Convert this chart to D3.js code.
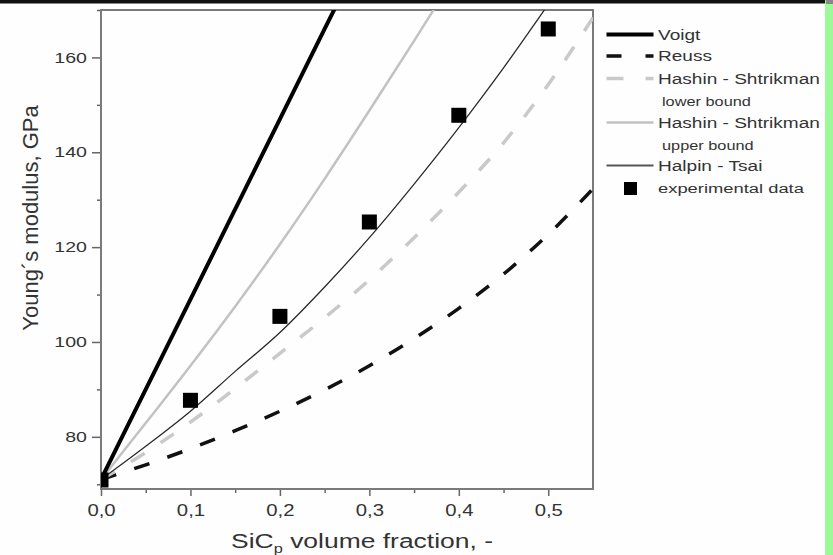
<!DOCTYPE html>
<html>
<head>
<meta charset="utf-8">
<script src="https://cdn.jsdelivr.net/npm/d3@7"></script>
<style>
  body { margin: 0; background: #fff; }
  text { font-family: "Liberation Sans", Arial, sans-serif; fill: #333; }
</style>
</head>
<body>
<div id="chart"></div>
<script>
// volume fractions of SiC particles
const fractions = [0, 0.05, 0.1, 0.15, 0.2, 0.25, 0.3, 0.35, 0.4, 0.45, 0.5, 0.55];

// Young's modulus (GPa), null = above the plot
const voigt = [71, 90, 109, 128, 147, 166, 185, null, null, null, null, null];
const hsUpper = [71, 82.9, 95.0, 107.5, 120.6, 134.4, 148.8, 163.5, 178.5, null, null, null];
const halpinTsai = [71, 78, 85.4, 93.8, 102, 111.6, 122, 133.3, 145.2, 157.8, 171.2, null];
const hsLower = [71, 76.7, 83.1, 90.2, 97.6, 105.1, 113.1, 122.0, 131.6, 142.0, 154.3, 168.4];
const reuss = [71, 74.1, 77.5, 81.3, 85.4, 89.9, 95.0, 100.7, 107.1, 114.3, 122.7, 132.3];

// experimental data
const expFractions = [0, 0.1, 0.2, 0.3, 0.4, 0.5];
const expModulus = [70.9, 87.7, 105.4, 125.3, 147.8, 166.0];

const xTicks = [0, 0.1, 0.2, 0.3, 0.4, 0.5];
const yTicks = [80, 100, 120, 140, 160];

const W = 833;
const H = 555;
const plot = { left: 101, right: 593, top: 10, bottom: 489 };

const svg = d3.select('#chart').append('svg')
  .attr('width', W)
  .attr('height', H);

svg.append('rect').attr('width', W).attr('height', H).attr('fill', '#fefefe');

// scan artefacts: black strip on top, green strip on the right
svg.append('rect').attr('x', 0).attr('y', 0).attr('width', 825).attr('height', 3.5).attr('fill', '#111');
svg.append('rect').attr('x', 825).attr('y', 0).attr('width', 8).attr('height', H).attr('fill', '#9ef99b');
svg.append('rect').attr('x', 826).attr('y', 0).attr('width', 7).attr('height', 4).attr('fill', '#888');

const x = d3.scaleLinear().domain([0, 0.55]).range([plot.left, plot.right]);
const y = d3.scaleLinear().domain([69, 170]).range([plot.bottom, plot.top]);

svg.append('clipPath').attr('id', 'clip')
  .append('rect')
  .attr('x', plot.left)
  .attr('y', plot.top)
  .attr('width', plot.right - plot.left)
  .attr('height', plot.bottom - plot.top);

const comma = (d) => d3.format('.1f')(d).replace('.', ',');

// minor ticks
svg.append('g')
  .attr('transform', `translate(0,${plot.bottom})`)
  .call(d3.axisBottom(x).tickValues(d3.range(0.05, 0.55, 0.1)).tickSize(4).tickFormat(''))
  .call((g) => g.select('.domain').remove());
svg.append('g')
  .attr('transform', `translate(${plot.left},0)`)
  .call(d3.axisLeft(y).tickValues([70, 90, 110, 130, 150, 170]).tickSize(4).tickFormat(''))
  .call((g) => g.select('.domain').remove());

// major ticks
const xAxis = svg.append('g')
  .attr('transform', `translate(0,${plot.bottom})`)
  .call(d3.axisBottom(x).tickValues(xTicks).tickSize(7).tickPadding(9).tickFormat(comma));
xAxis.select('.domain').remove();
xAxis.selectAll('text')
  .style('font-size', '16px')
  .attr('transform', 'scale(1.27,1)');

const yAxis = svg.append('g')
  .attr('transform', `translate(${plot.left},0)`)
  .call(d3.axisLeft(y).tickValues(yTicks).tickSize(9));
yAxis.select('.domain').remove();
yAxis.selectAll('text')
  .style('font-size', '14.5px')
  .attr('x', -14 / 1.35)
  .attr('transform', 'scale(1.35,1)');

svg.selectAll('.tick line').attr('stroke', '#666').attr('stroke-width', 1.5);
svg.selectAll('.tick text').style('fill', '#333');

// frame
svg.append('rect')
  .attr('x', plot.left)
  .attr('y', plot.top)
  .attr('width', plot.right - plot.left)
  .attr('height', plot.bottom - plot.top)
  .attr('fill', 'none')
  .attr('stroke', '#7a7a7a')
  .attr('stroke-width', 2);

// curves
const series = [
  { name: 'Reuss', values: reuss, stroke: '#111', width: 3.5, dash: '16,19' },
  { name: 'HS lower', values: hsLower, stroke: '#c9c9c9', width: 3.5, dash: '16,19' },
  { name: 'Halpin-Tsai', values: halpinTsai, stroke: '#2a2a2a', width: 1.3, dash: null },
  { name: 'HS upper', values: hsUpper, stroke: '#c2c2c2', width: 2.5, dash: null },
  { name: 'Voigt', values: voigt, stroke: '#000', width: 4, dash: null },
];

const line = d3.line()
  .defined((d) => d[1] !== null)
  .x((d) => x(d[0]))
  .y((d) => y(d[1]))
  .curve(d3.curveMonotoneX);

const curves = svg.append('g').attr('clip-path', 'url(#clip)');

curves.selectAll('path')
  .data(series)
  .enter()
  .append('path')
  .attr('d', (s) => line(fractions.map((f, i) => [f, s.values[i]])))
  .attr('fill', 'none')
  .attr('stroke', (s) => s.stroke)
  .attr('stroke-width', (s) => s.width)
  .attr('stroke-dasharray', (s) => s.dash);

const sq = 15;
curves.selectAll('rect.exp')
  .data(expFractions.map((f, i) => [f, expModulus[i]]))
  .enter()
  .append('rect')
  .attr('class', 'exp')
  .attr('x', (d) => x(d[0]) - sq / 2)
  .attr('y', (d) => y(d[1]) - sq / 2)
  .attr('width', sq)
  .attr('height', sq)
  .attr('fill', '#000');

// axis titles
svg.append('text')
  .attr('transform', 'translate(37.5,218) rotate(-90)')
  .attr('text-anchor', 'middle')
  .style('font-size', '22px')
  .text('Young´s modulus, GPa');

const xt = svg.append('text')
  .attr('transform', 'translate(362,548) scale(1.26,1)')
  .attr('text-anchor', 'middle')
  .style('font-size', '21px');
xt.append('tspan').text('SiC');
xt.append('tspan').attr('dy', 5).style('font-size', '13px').text('p');
xt.append('tspan').attr('dy', -5).text(' volume fraction, -');

// legend
const legendItems = [
  { label: 'Voigt', y: 34.5, stroke: '#000', width: 4, dash: null },
  { label: 'Reuss', y: 56, stroke: '#111', width: 3.5, dash: '15,24' },
  { label: 'Hashin - Shtrikman', sub: 'lower bound', y: 78.5, stroke: '#c9c9c9', width: 3.5, dash: '17,22' },
  { label: 'Hashin - Shtrikman', sub: 'upper bound', y: 122.5, stroke: '#c2c2c2', width: 2.5, dash: null },
  { label: 'Halpin - Tsai', y: 165.5, stroke: '#555', width: 2, dash: null },
];

const legend = svg.append('g');
legendItems.forEach((d) => {
  legend.append('line')
    .attr('x1', 606.5).attr('x2', 653.5)
    .attr('y1', d.y).attr('y2', d.y)
    .attr('stroke', d.stroke)
    .attr('stroke-width', d.width)
    .attr('stroke-dasharray', d.dash);
  legend.append('text')
    .attr('transform', `translate(658,${d.y + 5}) scale(1.36,1)`)
    .style('font-size', '14px')
    .text(d.label);
  if (d.sub) {
    legend.append('text')
      .attr('transform', `translate(662,${d.y + 27}) scale(1.36,1)`)
      .style('font-size', '12px')
      .text(d.sub);
  }
});
legend.append('rect')
  .attr('x', 624).attr('y', 182)
  .attr('width', 13).attr('height', 13)
  .attr('fill', '#000');
legend.append('text')
  .attr('transform', 'translate(658,193) scale(1.36,1)')
  .style('font-size', '13.5px')
  .text('experimental data');
</script>
</body>
</html>
